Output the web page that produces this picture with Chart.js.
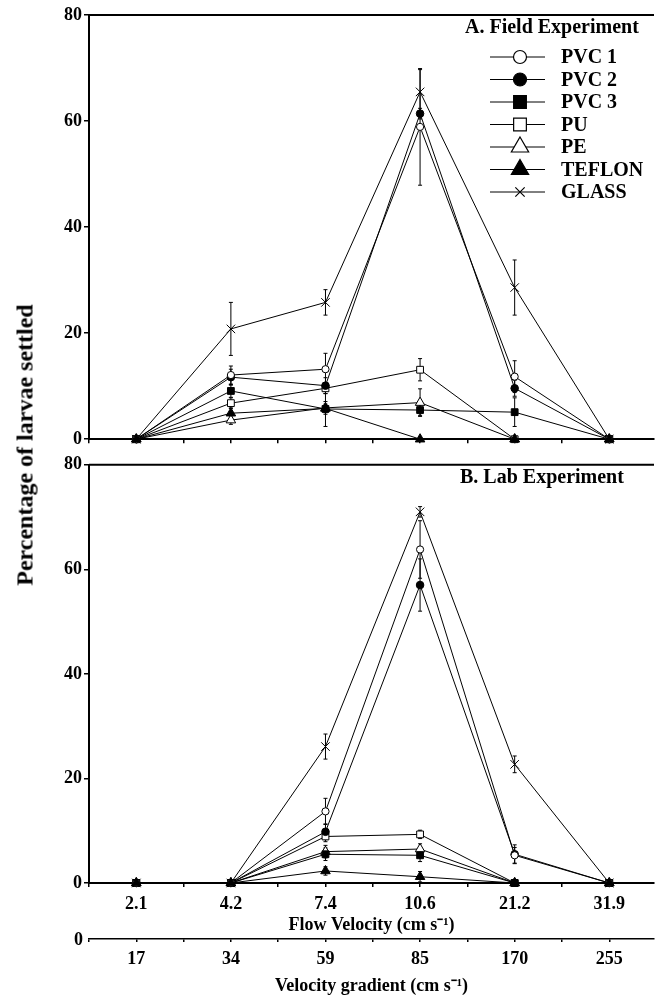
<!DOCTYPE html>
<html>
<head>
<meta charset="utf-8">
<script src="https://cdn.jsdelivr.net/npm/chart.js@4.4.1/dist/chart.umd.min.js"></script>
<style>
  html, body { margin: 0; padding: 0; background: #fff; overflow: hidden; }
  #wrap { position: relative; width: 661px; height: 995px; }
  canvas { position: absolute; left: 0; }
  #fieldChart { top: 0; }
  #labChart { top: 452px; }
  #yTitle {
    position: absolute; left: 25px; top: 445px;
    transform: translate(-50%, -50%) rotate(-90deg);
    white-space: nowrap;
    font: bold 24px "Liberation Serif", "Times New Roman", serif;
    color: #000;
  }
</style>
</head>
<body>
<div id="wrap">
  <canvas id="fieldChart" width="661" height="452"></canvas>
  <canvas id="labChart" width="661" height="543"></canvas>
  <div id="yTitle">Percentage of larvae settled</div>
</div>
<script>
//Categories (tick labels of both x axes)
const flowVelocity = ['2.1', '4.2', '7.4', '10.6', '21.2', '31.9'];
const velocityGradient = ['17', '34', '59', '85', '170', '255'];
const substrates = ['PVC 1', 'PVC 2', 'PVC 3', 'PU', 'PE', 'TEFLON', 'GLASS'];
const yTicks = [0, 20, 40, 60, 80];

//A. Field experiment - % larvae settled (mean)
const fieldPVC1 = [0, 12.1, 13.2, 58.9, 11.8, 0];
const fieldPVC2 = [0, 11.7, 10.1, 61.4, 9.6, 0];
const fieldPVC3 = [0, 9.1, 5.7, 5.5, 5.1, 0];
const fieldPU = [0, 6.8, 9.6, 13.1, 0, 0];
const fieldPE = [0, 3.6, 5.9, 6.9, 0, 0];
const fieldTeflon = [0, 4.9, 5.8, 0, 0, 0];
const fieldGlass = [0, 20.8, 25.8, 65.5, 28.6, 0];

//A. Field experiment - error bars (+/-)
const fieldPVC1Err = [0, 1.7, 3.0, 11.0, 3.0, 0];
const fieldPVC2Err = [0, 1.5, 1.5, 1.0, 1.5, 0];
const fieldPVC3Err = [0, 1.2, 3.3, 1.0, 2.7, 0];
const fieldPUErr = [0, 1.0, 1.0, 2.1, 0, 0];
const fieldPEErr = [0, 0.8, 1.2, 2.6, 0, 0];
const fieldTeflonErr = [0, 1.0, 0.8, 0, 0, 0];
const fieldGlassErr = [0, 5.0, 2.4, 4.2, 5.2, 0];

//B. Lab experiment - % larvae settled (mean)
const labPVC1 = [0, 0, 13.7, 63.8, 5.3, 0];
const labPVC2 = [0, 0, 9.8, 57.0, 5.5, 0];
const labPVC3 = [0, 0, 5.5, 5.3, 0, 0];
const labPU = [0, 0, 8.9, 9.3, 0, 0];
const labPE = [0, 0, 6.0, 6.5, 0, 0];
const labTeflon = [0, 0, 2.3, 1.2, 0, 0];
const labGlass = [0, 0, 26.1, 71.0, 22.7, 0];

//B. Lab experiment - error bars (+/-)
const labPVC1Err = [0, 0, 2.5, 5.5, 1.5, 0];
const labPVC2Err = [0, 0, 1.5, 5.0, 1.8, 0];
const labPVC3Err = [0, 0, 1.2, 1.2, 0, 0];
const labPUErr = [0, 0, 1.0, 0.8, 0, 0];
const labPEErr = [0, 0, 1.2, 1.0, 0, 0];
const labTeflonErr = [0, 0, 0.8, 1.0, 0, 0];
const labGlassErr = [0, 0, 2.4, 1.0, 1.6, 0];

//Marker look per substrate (chart point + legend point)
const markers = [
  { style: 'circle', fill: '#fff', r: 3.6, legendR: 6.5 },
  { style: 'circle', fill: '#000', r: 3.8, legendR: 6.5 },
  { style: 'rect', fill: '#000', r: 4.8, legendR: 9.0 },
  { style: 'rect', fill: '#fff', r: 4.8, legendR: 9.0 },
  { style: 'triangle', fill: '#fff', r: 5.5, legendR: 10 },
  { style: 'triangle', fill: '#000', r: 5.5, legendR: 10 },
  { style: 'crossRot', fill: '#000', r: 6, legendR: 6.6 },
];

Chart.defaults.font.family = '"Liberation Serif", "Times New Roman", serif';
Chart.defaults.font.weight = 'bold';
Chart.defaults.font.size = 18;
Chart.defaults.color = '#000';

function buildDatasets(series, errors) {
  return series.map((values, i) => ({
    label: substrates[i],
    data: values.map((v, j) => ({ x: j + 1, y: v })),
    errors: errors[i],
    borderColor: '#000',
    borderWidth: 1,
    pointStyle: markers[i].style,
    pointRadius: markers[i].r,
    pointBackgroundColor: markers[i].fill,
    pointBorderColor: '#000',
    pointBorderWidth: 1,
    legendRadius: markers[i].legendR,
    order: substrates[i] === 'TEFLON' ? -1 : i,
    clip: false,
    tension: 0,
  }));
}

//Vertical error bars with small caps
const errorBars = {
  id: 'errorBars',
  beforeDatasetsDraw(chart) {
    const ctx = chart.ctx;
    const yScale = chart.scales.y;
    ctx.save();
    ctx.strokeStyle = '#000';
    ctx.lineWidth = 1;
    chart.data.datasets.forEach((ds, i) => {
      const meta = chart.getDatasetMeta(i);
      meta.data.forEach((pt, j) => {
        const e = ds.errors[j];
        if (!e) return;
        const v = ds.data[j].y;
        const top = yScale.getPixelForValue(v + e);
        const bot = yScale.getPixelForValue(Math.max(0, v - e));
        ctx.beginPath();
        ctx.moveTo(pt.x, top); ctx.lineTo(pt.x, bot);
        ctx.moveTo(pt.x - 2, top); ctx.lineTo(pt.x + 2, top);
        ctx.moveTo(pt.x - 2, bot); ctx.lineTo(pt.x + 2, bot);
        ctx.stroke();
      });
    });
    ctx.restore();
  },
};

//Panel title, legend, top frame line, "0" of the gradient axis
const panelDecor = {
  id: 'panelDecor',
  afterDraw(chart, args, opts) {
    const ctx = chart.ctx;
    const area = chart.chartArea;
    ctx.save();
    ctx.strokeStyle = '#000';
    ctx.lineWidth = 2;
    ctx.beginPath();
    ctx.moveTo(area.left, area.top);
    ctx.lineTo(area.right, area.top);
    ctx.stroke();

    ctx.fillStyle = '#000';
    ctx.font = 'bold 20px "Liberation Serif", serif';
    ctx.textBaseline = 'middle';
    ctx.textAlign = 'left';
    ctx.fillText(opts.title, opts.titleX, area.top + 13);

    if (opts.legend) {
      chart.data.datasets.forEach((ds, i) => {
        const y = area.top + 42 + i * 22.5;
        ctx.strokeStyle = '#000';
        ctx.lineWidth = 1;
        ctx.beginPath();
        ctx.moveTo(490, y);
        ctx.lineTo(545, y);
        ctx.stroke();
        ctx.fillStyle = ds.pointBackgroundColor;
        ctx.lineWidth = 1.2;
        Chart.helpers.drawPoint(ctx, {
          pointStyle: ds.pointStyle, radius: ds.legendRadius, rotation: 0, borderWidth: 1.2,
        }, 520, y);
        ctx.fillStyle = '#000';
        ctx.fillText(ds.label, 561, y + 1);
      });
    }

    const grad = chart.scales.grad;
    if (grad) {
      ctx.font = 'bold 18px "Liberation Serif", serif';
      ctx.textAlign = 'right';
      ctx.fillStyle = '#000';
      ctx.fillText('0', grad.left - 6, grad.top + 1);
    }
    ctx.restore();
  },
};

function xAxis(labels, extra) {
  return Object.assign({
    type: 'linear',
    position: 'bottom',
    min: 0.5,
    max: 6.473,
    border: { display: true, color: '#000', width: 2 },
    grid: { drawOnChartArea: false, drawTicks: true, tickLength: 4, color: '#000', lineWidth: 1.5 },
    ticks: {
      stepSize: 0.5,
      includeBounds: false,
      maxRotation: 0,
      autoSkip: false,
      padding: 7,
      callback: (v) => (Number.isInteger(v) && labels ? labels[v - 1] : ''),
    },
  }, extra);
}

function yAxis() {
  return {
    type: 'linear',
    min: 0,
    max: 80,
    border: { display: true, color: '#000', width: 2 },
    grid: { drawOnChartArea: false, drawTicks: true, tickLength: 5, color: '#000', lineWidth: 1.5 },
    afterBuildTicks: (scale) => { scale.ticks = yTicks.map((v) => ({ value: v })); },
    ticks: { padding: 2 },
    afterFit: (scale) => { scale.width = 89; },
  };
}

const baseOptions = {
  responsive: false,
  animation: false,
  events: [],
};

//Top panel - field experiment
new Chart(document.getElementById('fieldChart'), {
  type: 'line',
  data: {
    datasets: buildDatasets(
      [fieldPVC1, fieldPVC2, fieldPVC3, fieldPU, fieldPE, fieldTeflon, fieldGlass],
      [fieldPVC1Err, fieldPVC2Err, fieldPVC3Err, fieldPUErr, fieldPEErr, fieldTeflonErr, fieldGlassErr]
    ),
  },
  options: Object.assign({}, baseOptions, {
    layout: { padding: { top: 15, left: 0, right: 0, bottom: 0 } },
    scales: {
      x: xAxis(null, {
        ticks: { display: false, stepSize: 0.5, includeBounds: false },
        afterFit: (scale) => { scale.height = 11; },
      }),
      y: yAxis(),
    },
    plugins: {
      legend: { display: false },
      tooltip: { enabled: false },
      panelDecor: { title: 'A. Field Experiment', titleX: 465, legend: true },
    },
  }),
  plugins: [errorBars, panelDecor],
});

//Bottom panel - lab experiment, with flow velocity and velocity gradient axes
new Chart(document.getElementById('labChart'), {
  type: 'line',
  data: {
    datasets: buildDatasets(
      [labPVC1, labPVC2, labPVC3, labPU, labPE, labTeflon, labGlass],
      [labPVC1Err, labPVC2Err, labPVC3Err, labPUErr, labPEErr, labTeflonErr, labGlassErr]
    ),
  },
  options: Object.assign({}, baseOptions, {
    layout: { padding: { top: 10, left: 0, right: 0, bottom: 0 } },
    scales: {
      x: xAxis(flowVelocity, {
        weight: 0,
        title: {
          display: true,
          text: 'Flow Velocity (cm s\u207B\u00B9)',
          font: { size: 18, weight: 'bold' },
          padding: { top: 0, bottom: 3 },
        },
        afterFit: (scale) => { scale.height = 56; },
      }),
      grad: xAxis(velocityGradient, {
        weight: 1,
        grid: { drawOnChartArea: false, drawTicks: true, tickLength: 3, color: '#000', lineWidth: 1.5 },
        border: { display: true, color: '#000', width: 1.5 },
        title: {
          display: true,
          text: 'Velocity gradient (cm s\u207B\u00B9)',
          font: { size: 18, weight: 'bold', lineHeight: 1 },
          padding: { top: 0, bottom: 0 },
        },
        afterFit: (scale) => { scale.height = 56; },
      }),
      y: yAxis(),
    },
    plugins: {
      legend: { display: false },
      tooltip: { enabled: false },
      panelDecor: { title: 'B. Lab Experiment', titleX: 460, legend: false },
    },
  }),
  plugins: [errorBars, panelDecor],
});
</script>
</body>
</html>
